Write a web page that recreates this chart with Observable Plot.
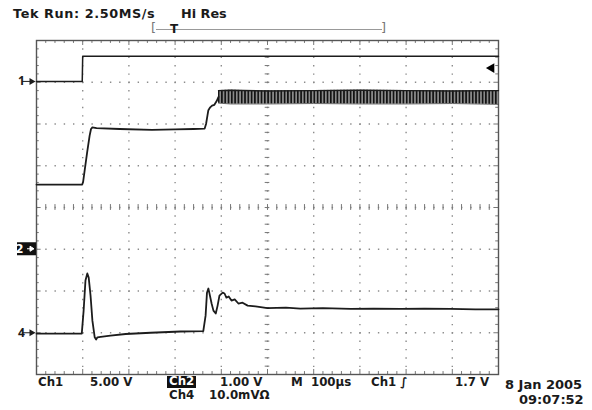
<!DOCTYPE html>
<html><head><meta charset="utf-8">
<script src="https://cdn.jsdelivr.net/npm/d3@7"></script>
<script src="https://cdn.jsdelivr.net/npm/@observablehq/plot@0.6"></script>
<style>
body{margin:0;background:#fff;}
#wrap{position:relative;width:592px;height:410px;overflow:hidden;font-family:"DejaVu Sans",sans-serif;color:#1a1a1a;}
#wrap svg{position:absolute;left:0;top:0;}
.t{position:absolute;white-space:pre;line-height:1;font-weight:bold;}
.f{font-size:11.8px;}
.box{background:#111;color:#fff;padding:0 2px;}
</style></head><body><div id="wrap">
<div class="t" style="left:13px;top:8px;font-size:12.8px;letter-spacing:0.6px;">Tek Run: 2.50MS/s</div>
<div class="t" style="left:181px;top:8px;font-size:12.8px;">Hi Res</div>
<div class="t" style="left:151px;top:21px;font-size:13px;color:#777;font-weight:normal;">[</div>
<div style="position:absolute;left:156px;top:29px;width:226px;height:0;border-top:1px solid #999;"></div>
<div class="t" style="left:170px;top:23px;font-size:12px;">T</div>
<div class="t" style="left:381px;top:21px;font-size:13px;color:#777;font-weight:normal;">]</div>
<div class="t f" style="left:38px;top:377px;">Ch1</div>
<div class="t f" style="left:90px;top:377px;">5.00 V</div>
<div class="t f box" style="left:167px;top:376px;">Ch2</div>
<div class="t f" style="left:220px;top:377px;">1.00 V</div>
<div class="t f" style="left:291px;top:377px;">M  100µs</div>
<div class="t f" style="left:371px;top:377px;">Ch1 ∫</div>
<div class="t f" style="left:455px;top:377px;">1.7 V</div>
<div class="t f" style="left:169px;top:390px;">Ch4</div>
<div class="t f" style="left:209px;top:390px;">10.0mVΩ</div>
<div class="t" style="left:505px;top:378px;font-size:13px;">8 Jan 2005</div>
<div class="t" style="left:519px;top:393px;font-size:13px;">09:07:52</div>
</div>
<script>
// ---- data (time in µs, value in vertical divisions from screen centre) ----
const ch1T = [0, 99, 100, 1000];
const ch1V = [3.02, 3.02, 3.62, 3.62];

const ch2T = [0, 99, 101, 105, 110, 115, 118, 121, 130, 180, 250, 300, 340, 364, 367, 370, 372, 376, 380, 385, 390, 394];
const ch2V = [0.55, 0.55, 0.62, 0.95, 1.35, 1.72, 1.88, 1.92, 1.90, 1.88, 1.86, 1.87, 1.88, 1.89, 2.00, 2.20, 2.33, 2.40, 2.44, 2.46, 2.55, 2.65];

const bandT   = [394, 420, 500, 600, 700, 800, 900, 1000];
const bandTop = [2.80, 2.81, 2.79, 2.80, 2.81, 2.80, 2.79, 2.80];
const bandBot = [2.50, 2.48, 2.48, 2.49, 2.48, 2.48, 2.49, 2.47];

const ch4T = [0, 98, 102, 106, 110, 113, 117, 121, 126, 129, 132, 139, 160, 193, 247, 312, 361, 366, 369, 372, 374, 379, 383, 388, 392, 396, 403, 407, 411, 416, 422, 429, 437, 446, 457, 474, 500, 540, 571, 620, 680, 730, 788, 840, 896, 950, 1000];
const ch4V = [-3.02, -3.02, -2.47, -1.75, -1.58, -1.68, -2.11, -2.71, -3.11, -3.16, -3.11, -3.10, -3.07, -3.03, -3.00, -2.97, -2.96, -2.59, -2.04, -1.94, -2.04, -2.30, -2.47, -2.54, -2.35, -2.11, -2.04, -2.06, -2.16, -2.13, -2.23, -2.20, -2.30, -2.28, -2.35, -2.37, -2.41, -2.40, -2.42, -2.41, -2.43, -2.42, -2.43, -2.42, -2.43, -2.44, -2.44];

const markerLabels = ["1", "4"];
const markerLevels = [3.02, -3.0];
const ch2Level = -1.0;
const trigLevel = 3.34;

const xMajor = [100, 200, 300, 400, 500, 600, 700, 800, 900];
const yMajor = [-3, -2, -1, 0, 1, 2, 3];

// ---- tables ----
const ch1 = ch1T.map((t, i) => ({t, v: ch1V[i]}));
const ch2 = ch2T.map((t, i) => ({t, v: ch2V[i]}));
const band = bandT.map((t, i) => ({t, hi: bandTop[i], lo: bandBot[i]}));
const ch4 = ch4T.map((t, i) => ({t, v: ch4V[i]}));
const markers = markerLabels.map((l, i) => ({l, v: markerLevels[i]}));
const xMinor = d3.range(0, 1001, 20);
const yMinor = d3.range(-20, 21).map(k => k / 5);
const isMajX = d => d % 100 === 0;
const isMajY = d => Math.abs(d - Math.round(d)) < 1e-6;

const grid = "#8c8c8c", ink = "#1c1c1c";

const chart = Plot.plot({
  width: 592, height: 410,
  marginTop: 40, marginLeft: 36, marginRight: 94, marginBottom: 36,
  x: {domain: [0, 1000], axis: null},
  y: {domain: [-4, 4], axis: null},
  marks: [
    Plot.ruleX(xMajor, {stroke: grid, strokeWidth: 1.4, strokeDasharray: "1.4,6.95"}),
    Plot.ruleY(yMajor, {stroke: grid, strokeWidth: 1.4, strokeDasharray: "1.4,7.84"}),
    Plot.ruleX(xMinor, {x: d => d, y1: -0.07, y2: 0.07, stroke: "#777"}),
    Plot.ruleY(yMinor, {y: d => d, x1: 495, x2: 505, stroke: "#777"}),
    Plot.ruleX(xMinor, {x: d => d, y1: 4, y2: d => 4 - (isMajX(d) ? 0.12 : 0.07), stroke: "#777"}),
    Plot.ruleX(xMinor, {x: d => d, y1: -4, y2: d => -4 + (isMajX(d) ? 0.12 : 0.07), stroke: "#777"}),
    Plot.ruleY(yMinor, {y: d => d, x1: 0, x2: d => (isMajY(d) ? 10 : 6), stroke: "#777"}),
    Plot.ruleY(yMinor, {y: d => d, x1: 1000, x2: d => 1000 - (isMajY(d) ? 10 : 6), stroke: "#777"}),
    Plot.frame({stroke: "#555", strokeWidth: 1.4}),
    Plot.areaY(band, {x: "t", y1: "lo", y2: "hi", fill: "#8a8a8a"}),
    Plot.areaY(band, {x: "t", y1: "lo", y2: "hi", fill: "url(#vstripes)"}),
    Plot.lineY(band, {x: "t", y: "hi", stroke: ink, strokeWidth: 1.4}),
    Plot.lineY(band, {x: "t", y: "lo", stroke: "#444", strokeWidth: 0.8}),
    Plot.line(ch1, {x: "t", y: "v", stroke: ink, strokeWidth: 1.5}),
    Plot.line(ch2, {x: "t", y: "v", stroke: ink, strokeWidth: 1.8}),
    Plot.line(ch4, {x: "t", y: "v", stroke: ink, strokeWidth: 1.8}),
    Plot.text(markers, {x: () => 0, y: "v", text: "l", dx: -15, fontSize: 12, fontWeight: "bold", fill: ink}),
    Plot.ruleY(markers, {y: "v", x1: -30, x2: -8, stroke: ink, strokeWidth: 1}),
    Plot.dot(markers, {x: () => 0, y: "v", dx: -5, symbol: "triangle", rotate: 90, r: 2.6, fill: ink, stroke: "none"}),
    Plot.dot([trigLevel], {x: () => 1000, y: d => d, dx: -7, symbol: "triangle", rotate: -90, r: 3.6, fill: "#000", stroke: "none"})
  ]
});

const svg = d3.select(chart);
svg.insert("defs", ":first-child").html(
  '<pattern id="vstripes" width="3.3" height="20" patternUnits="userSpaceOnUse">' +
  '<rect x="0" y="0" width="1.6" height="20" fill="#111"/></pattern>');

// channel 2 reference marker (inverse box), placed through the y scale
const y2 = chart.scale("y").apply(ch2Level);
const g = svg.append("g");
g.append("rect").attr("x", 17).attr("y", y2 - 6.5).attr("width", 19).attr("height", 13).attr("fill", "#111");
g.append("text").attr("x", 19.5).attr("y", y2 + 4.3).attr("fill", "#fff").attr("font-size", 11.5).attr("font-weight", "bold").attr("font-family", "DejaVu Sans").text("2");
g.append("path").attr("d", `M27 ${y2}H31M30 ${y2 - 2.5}L34 ${y2}L30 ${y2 + 2.5}Z`).attr("stroke", "#fff").attr("fill", "#fff").attr("stroke-width", 1);

document.getElementById("wrap").appendChild(chart);
</script>
</body></html>
